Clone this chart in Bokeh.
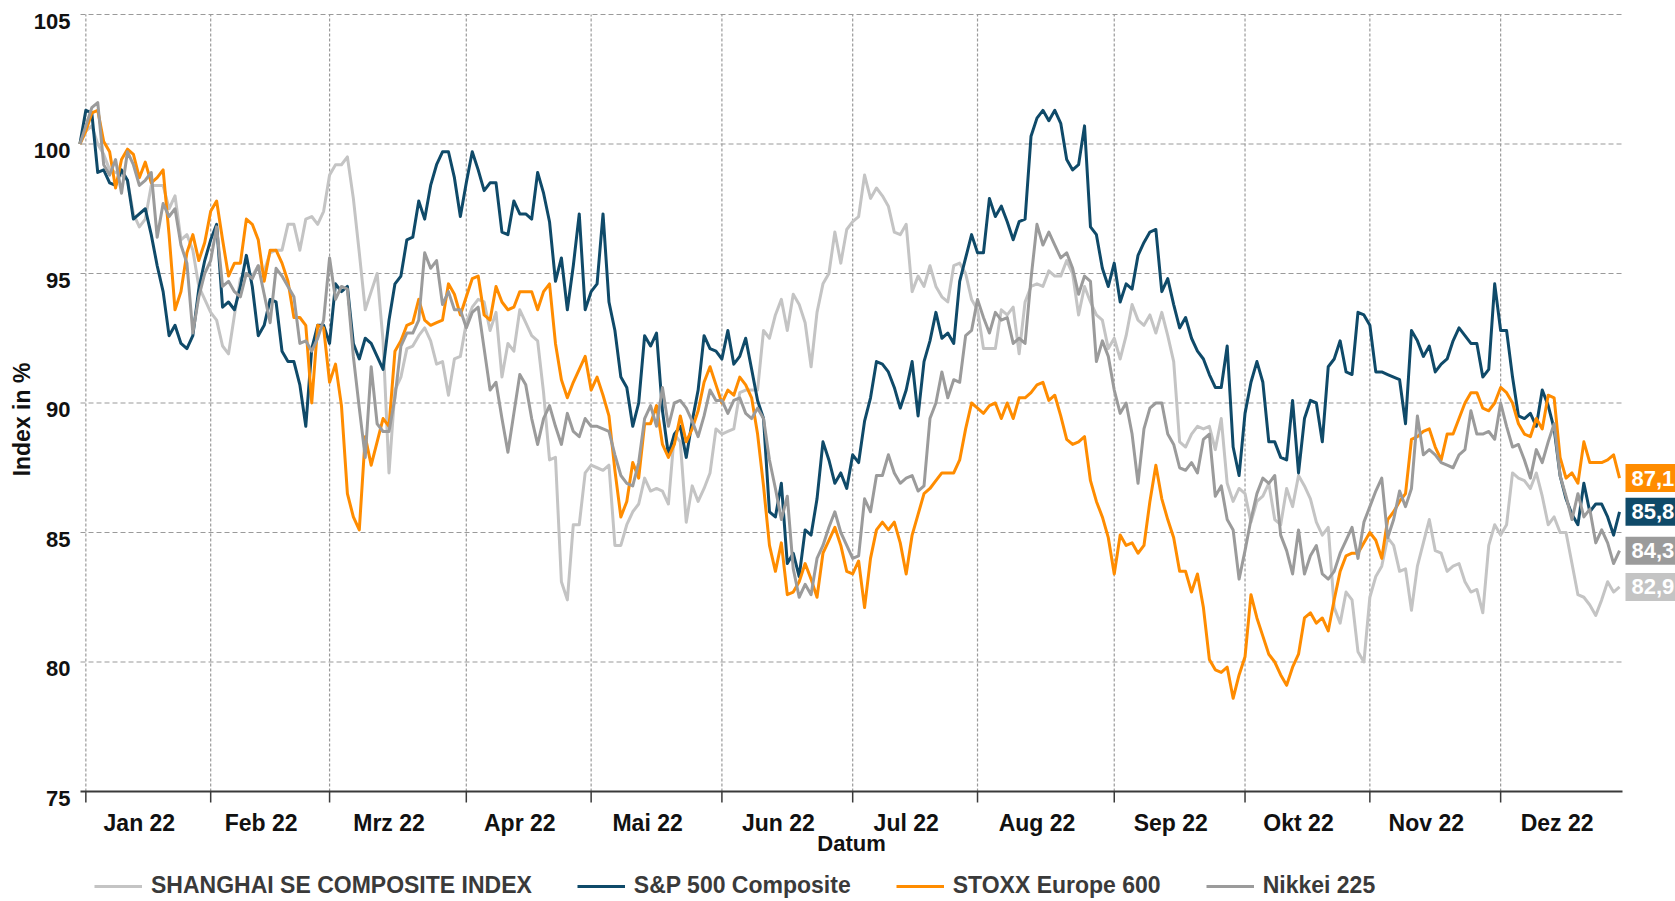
import numpy as np
from bokeh.plotting import figure
from bokeh.models import ColumnDataSource, Range1d, Legend, LegendItem
from bokeh.embed import file_html
from bokeh.resources import INLINE
from bokeh.core.properties import value

# ---------------- data ----------------
MONTH_LABELS = ["Jan 22", "Feb 22", "Mrz 22", "Apr 22", "Mai 22", "Jun 22",
                "Jul 22", "Aug 22", "Sep 22", "Okt 22", "Nov 22", "Dez 22"]
# trading-day index at which each month starts (2022), last = end of year
MONTH_START = [0, 21, 41, 64, 85, 107, 129, 150, 173, 195, 216, 238, 260]
FIRST_DAY = -1          # index of the base day (31.12.2021 = 100 %)
Y_TICKS = [75, 80, 85, 90, 95, 100, 105]
X_TITLE = "Datum"
Y_TITLE = "Index in %"

SHANGHAI = [
    100.0, 100.5, 100.7, 100.0, 99.6, 99.0, 98.9, 98.8, 98.6, 97.3,
    96.8, 97.1, 98.4, 98.4, 98.4, 97.5, 98.0, 96.3, 96.5, 95.9,
    94.5, 94.0, 93.5, 93.2, 92.2, 91.9, 93.4, 94.8, 95.0, 94.9,
    95.3, 95.1, 95.8, 95.9, 95.9, 96.9, 96.9, 95.9, 97.1, 97.2,
    96.9, 97.4, 98.8, 99.2, 99.2, 99.5, 97.9, 95.8, 93.6, 94.3,
    95.0, 92.4, 87.3, 90.5, 91.0, 92.1, 92.2, 92.6, 92.9, 92.4,
    91.5, 91.6, 90.3, 91.7, 91.8, 93.1, 93.7, 94.0, 93.9, 92.8,
    93.5, 91.0, 92.3, 92.0, 93.6, 93.1, 92.6, 92.4, 90.4, 87.8,
    87.9, 83.1, 82.4, 85.3, 85.3, 87.3, 87.6, 87.5, 87.4, 87.6,
    84.5, 84.5, 85.3, 85.8, 86.1, 87.1, 86.6, 86.7, 86.6, 86.1,
    88.8, 88.5, 85.4, 86.8, 86.2, 86.7, 87.3, 89.0, 88.8, 88.9,
    89.0, 90.4, 90.5, 90.5, 90.5, 92.8, 92.5, 93.4, 94.0, 92.8,
    94.2, 93.8, 93.1, 91.4, 93.5, 94.6, 95.0, 96.6, 95.4, 96.7,
    97.0, 97.2, 98.8, 97.9, 98.3, 98.0, 97.6, 96.6, 96.5, 96.9,
    94.3, 94.9, 94.5, 95.3, 94.5, 94.1, 93.9, 95.3, 95.4, 95.0,
    94.0, 93.6, 92.1, 92.1, 92.1, 93.6, 93.4, 93.7, 91.9, 93.9,
    94.5, 94.6, 94.5, 95.1, 94.9, 94.9, 95.5, 95.0, 93.4, 94.5,
    93.9, 93.4, 93.2, 92.1, 92.5, 91.7, 92.6, 93.8, 93.2, 93.0,
    93.4, 92.7, 93.5, 92.6, 91.6, 88.5, 88.3, 88.8, 89.1, 89.0,
    89.1, 88.2, 89.4, 86.9, 86.2, 86.7, 86.5, 85.4, 86.2, 86.4,
    86.9, 85.5, 85.3, 86.7, 86.0, 87.2, 86.8, 86.3, 85.4, 84.9,
    85.2, 82.1, 81.5, 82.7, 82.4, 80.4, 80.0, 82.5, 83.3, 83.7,
    84.8, 84.5, 83.5, 83.6, 82.0, 83.7, 84.6, 85.5, 84.3, 84.2,
    83.5, 83.7, 83.8, 83.1, 82.7, 82.8, 81.9, 84.5, 85.3, 84.9,
    85.3, 87.3, 87.1, 87.0, 86.7, 87.3, 86.4, 85.3, 85.6, 85.0,
    85.0, 83.8, 82.6, 82.5, 82.2, 81.8, 82.4, 83.1, 82.7, 82.9,
]

SP500 = [
    100.0, 101.3, 101.2, 98.9, 99.0, 98.5, 98.4, 99.0, 98.6, 97.1,
    97.3, 97.5, 96.5, 95.3, 94.3, 92.6, 93.0, 92.3, 92.1, 92.6,
    94.4, 95.5, 96.3, 96.9, 93.7, 93.9, 93.6, 94.5, 95.7, 94.5,
    92.6, 93.0, 94.0, 93.9, 92.0, 91.6, 91.6, 90.7, 89.1, 92.1,
    93.0, 93.0, 92.3, 94.6, 94.3, 94.5, 92.3, 91.7, 92.5, 92.3,
    91.8, 91.3, 93.2, 94.6, 94.9, 96.3, 96.4, 97.8, 97.1, 98.4,
    99.2, 99.7, 99.7, 98.7, 97.2, 98.5, 99.7, 99.0, 98.2, 98.5,
    98.5, 96.6, 96.5, 97.8, 97.3, 97.3, 97.1, 98.9, 98.1, 97.0,
    94.7, 95.6, 93.6, 95.3, 97.3, 93.6, 94.3, 94.6, 97.3, 93.9,
    92.8, 91.0, 90.6, 89.1, 90.0, 92.6, 92.2, 92.7, 89.7, 88.0,
    88.8, 89.1, 87.9, 89.3, 90.5, 92.6, 92.1, 92.0, 91.7, 92.8,
    91.5, 91.8, 92.5, 91.3, 90.1, 89.4, 85.8, 85.6, 86.9, 83.8,
    84.2, 83.3, 85.1, 84.9, 86.3, 88.5, 87.8, 86.9, 87.3, 86.7,
    88.0, 87.7, 89.3, 90.2, 91.6, 91.5, 91.2, 90.6, 89.8, 90.5,
    91.6, 89.5, 91.6, 92.4, 93.5, 92.5, 92.7, 92.3, 94.7, 95.6,
    96.5, 95.8, 95.8, 97.9, 97.2, 97.6, 97.0, 96.3, 97.0, 97.1,
    100.3, 101.0, 101.3, 100.9, 101.3, 100.8, 99.4, 99.0, 99.2, 100.7,
    96.8, 96.5, 95.2, 94.5, 95.4, 93.9, 94.6, 94.4, 95.7, 96.2,
    96.6, 96.7, 94.3, 94.8, 93.8, 92.9, 93.3, 92.5, 92.0, 91.7,
    91.1, 90.6, 90.6, 92.2, 88.3, 87.2, 89.6, 90.8, 91.6, 90.8,
    88.5, 88.5, 87.9, 87.8, 90.1, 87.3, 89.4, 90.1, 90.0, 88.5,
    91.4, 91.7, 92.4, 91.2, 91.1, 93.5, 93.4, 93.0, 91.2, 91.2,
    91.1, 91.0, 90.9, 89.2, 92.8, 92.4, 91.8, 92.2, 91.2, 91.5,
    91.7, 92.4, 92.9, 92.6, 92.3, 92.3, 91.0, 91.3, 94.6, 92.8,
    92.8, 91.0, 89.5, 89.4, 89.6, 89.1, 90.5, 89.9, 89.0, 87.2,
    86.3, 85.7, 85.3, 86.9, 85.8, 86.1, 86.1, 85.6, 84.9, 85.8,
]

STOXX600 = [
    100.0, 100.5, 101.2, 101.3, 100.1, 99.7, 98.3, 99.4, 99.8, 99.6,
    98.7, 99.3, 98.5, 98.7, 99.0, 96.5, 93.6, 94.3, 95.8, 96.5,
    95.5, 96.2, 97.4, 97.8, 96.3, 94.9, 95.4, 95.4, 97.1, 96.9,
    96.3, 94.7, 95.9, 95.9, 95.4, 94.7, 93.3, 93.3, 93.0, 90.0,
    93.0, 92.9, 90.8, 91.5, 89.9, 86.5, 85.6, 85.1, 88.7, 87.6,
    88.5, 89.4, 89.1, 92.0, 92.4, 93.0, 93.1, 94.0, 93.2, 93.0,
    93.1, 93.2, 94.6, 94.2, 93.4, 94.1, 94.8, 94.9, 93.4, 93.2,
    94.5, 93.9, 93.6, 93.7, 94.3, 94.3, 94.3, 93.6, 94.3, 94.6,
    92.3, 90.9, 90.2, 90.8, 91.3, 91.8, 90.5, 91.0, 90.3, 89.5,
    87.4, 85.6, 86.2, 87.7, 87.1, 89.2, 89.2, 89.9, 88.4, 87.9,
    88.4, 89.5, 88.5, 89.0, 89.7, 90.8, 91.4, 90.7, 90.0, 90.5,
    90.3, 91.0, 90.7, 90.2, 88.8, 86.8, 84.5, 83.5, 84.6, 82.6,
    82.7, 83.1, 83.8, 83.2, 82.5, 84.2, 84.7, 85.2, 84.5, 83.5,
    83.4, 83.9, 82.1, 84.0, 85.1, 85.4, 85.1, 85.4, 84.6, 83.4,
    84.9, 85.7, 86.5, 86.7, 87.0, 87.3, 87.3, 87.3, 87.8, 89.0,
    90.0, 89.8, 89.6, 89.9, 90.0, 89.4, 90.0, 89.4, 90.2, 90.2,
    90.4, 90.7, 90.8, 90.1, 90.3, 89.5, 88.6, 88.4, 88.5, 88.7,
    87.0, 86.2, 85.6, 84.8, 83.4, 84.9, 84.5, 84.6, 84.2, 84.5,
    86.2, 87.6, 86.3, 85.5, 84.8, 83.5, 83.5, 82.7, 83.4, 82.1,
    80.1, 79.7, 79.6, 79.8, 78.6, 79.5, 80.2, 82.6, 81.7, 81.0,
    80.3, 80.0, 79.5, 79.1, 79.8, 80.3, 81.7, 81.9, 81.5, 81.7,
    81.2, 82.4, 83.5, 84.1, 84.2, 84.2, 84.6, 85.0, 84.7, 84.0,
    85.5, 85.8, 86.2, 86.5, 88.6, 88.7, 88.9, 89.0, 88.3, 87.8,
    88.8, 88.8, 89.4, 90.0, 90.4, 90.4, 89.8, 89.7, 90.0, 90.6,
    90.4, 90.0, 89.2, 88.8, 88.7, 89.4, 89.0, 90.3, 90.2, 87.9,
    87.1, 87.3, 86.9, 88.5, 87.7, 87.7, 87.7, 87.8, 88.0, 87.1,
]

NIKKEI = [
    100.0, 100.7, 101.4, 101.6, 99.2, 98.8, 99.4, 98.1, 99.7, 99.2,
    98.4, 98.6, 98.9, 96.4, 97.7, 97.2, 97.5, 96.1, 95.4, 92.7,
    94.1, 95.0, 95.5, 96.8, 94.5, 94.7, 94.3, 94.1, 95.0, 94.8,
    95.3, 94.2, 93.1, 95.2, 94.9, 94.5, 94.1, 92.3, 92.4, 92.0,
    92.5, 93.2, 95.6, 94.0, 94.5, 94.4, 91.8, 89.8, 87.9, 91.4,
    89.2, 88.9, 88.9, 90.2, 92.2, 92.7, 92.7, 93.2, 95.8, 95.2,
    95.5, 93.8, 94.3, 93.6, 93.6, 92.9, 93.5, 93.7, 92.1, 90.5,
    90.8, 89.4, 88.1, 89.6, 91.1, 90.7, 89.4, 88.4, 89.4, 89.9,
    89.1, 88.4, 89.6, 88.9, 88.7, 89.4, 89.1, 89.1, 89.0, 88.9,
    88.0, 87.2, 86.9, 86.8, 87.7, 89.4, 89.9, 89.1, 90.6, 89.1,
    90.0, 90.1, 89.8, 89.3, 88.7, 89.5, 90.5, 90.1, 90.1, 89.6,
    90.1, 90.2, 89.6, 89.4, 89.8, 89.4, 87.8, 86.7, 85.5, 86.4,
    83.6, 82.5, 83.0, 82.6, 84.0, 84.5, 85.2, 85.8, 85.0, 84.5,
    84.0, 84.1, 86.3, 85.8, 87.2, 87.2, 88.0, 87.3, 86.9, 87.1,
    87.2, 86.6, 86.8, 89.4, 90.0, 91.2, 90.2, 90.9, 90.8, 92.6,
    92.8, 94.0, 93.3, 92.7, 93.5, 93.2, 93.3, 92.3, 92.5, 92.3,
    94.8, 96.9, 96.1, 96.6, 96.1, 95.6, 95.8, 95.2, 94.2, 94.9,
    94.7, 91.6, 92.4, 91.8, 90.5, 89.6, 90.0, 88.8, 86.9, 89.0,
    89.8, 90.0, 90.0, 88.8, 88.4, 87.5, 87.4, 87.7, 87.3, 88.6,
    88.8, 86.4, 86.8, 85.5, 85.1, 83.2, 84.3, 85.5, 86.5, 87.1,
    86.9, 87.2, 84.9, 84.3, 83.4, 85.1, 83.4, 84.1, 84.5, 83.4,
    83.2, 83.5, 84.2, 84.7, 85.2, 84.0, 85.4, 86.0, 86.6, 87.1,
    84.8, 85.5, 86.6, 86.0, 86.7, 89.5, 88.0, 88.2, 88.0, 87.7,
    87.6, 87.5, 88.0, 88.2, 89.7, 88.8, 88.8, 88.9, 88.6, 90.0,
    89.1, 88.3, 88.4, 87.8, 87.1, 88.2, 87.7, 88.5, 89.2, 87.2,
    86.4, 85.5, 86.5, 85.6, 85.9, 84.6, 85.1, 84.6, 83.8, 84.3,
]

SERIES_NAMES = ["SHANGHAI SE COMPOSITE INDEX", "S&P 500 Composite", "STOXX Europe 600", "Nikkei 225"]
SERIES_VALUES = [SHANGHAI, SP500, STOXX600, NIKKEI]
SERIES_COLORS = ["#c4c4c4", "#0f4a69", "#ff8c00", "#9b9b9b"]

for s in SERIES_VALUES:
    assert len(s) == 260, len(s)

FONT = value("Liberation Sans")
TEXT_COLOR = "#111111"
GRID_COLOR = "#9a9a9a"
AXIS_COLOR = "#3a3a3a"
days = np.arange(len(SP500)) + FIRST_DAY

# ---------------- layout (canvas pixels) ----------------
# The frame covers the whole canvas; axes, ticks and labels are drawn as glyphs
W, H = 1675, 899
DATA_LEFT, DATA_RIGHT = 80, 1622          # x pixels of the data window
DATA_TOP, DATA_BOTTOM = 14, 791           # y pixels of Y_MAX / Y_MIN
PLOT_START, PLOT_END = -0.9, 258.5        # trading-day window shown
Y_MIN, Y_MAX = Y_TICKS[0], Y_TICKS[-1]

ppd = (DATA_RIGHT - DATA_LEFT) / (PLOT_END - PLOT_START)
ppu = (DATA_BOTTOM - DATA_TOP) / (Y_MAX - Y_MIN)
x_range = Range1d(PLOT_START - DATA_LEFT / ppd, PLOT_END + (W - DATA_RIGHT) / ppd)
y_range = Range1d(Y_MIN - (H - DATA_BOTTOM) / ppu, Y_MAX + DATA_TOP / ppu)

p = figure(width=W, height=H, output_backend="svg", toolbar_location=None,
           x_range=x_range, y_range=y_range,
           x_axis_location=None, y_axis_location=None, min_border=0,
           min_border_left=0, min_border_right=0, min_border_top=0, min_border_bottom=0)
p.outline_line_color = None
p.xgrid.visible = False
p.ygrid.visible = False
p.background_fill_color = "white"
p.border_fill_color = "white"

# grid lines
month_bounds = MONTH_START[:-1]
n_b = len(month_bounds)
p.segment(x0=month_bounds, x1=month_bounds, y0=[Y_MIN] * n_b, y1=[Y_MAX] * n_b,
          line_color=GRID_COLOR, line_width=1.2, line_dash="3 2")
n_y = len(Y_TICKS) - 1
p.segment(x0=[PLOT_START] * n_y, x1=[PLOT_END] * n_y, y0=Y_TICKS[1:], y1=Y_TICKS[1:],
          line_color=GRID_COLOR, line_width=1.2, line_dash="5 3")

# x axis: line, tick marks at month boundaries, month labels in between
p.segment(x0=[PLOT_START], x1=[PLOT_END], y0=[Y_MIN], y1=[Y_MIN],
          line_color=AXIS_COLOR, line_width=2)
tick_len = 11 / ppu
p.segment(x0=month_bounds, x1=month_bounds, y0=[Y_MIN] * n_b, y1=[Y_MIN - tick_len] * n_b,
          line_color=AXIS_COLOR, line_width=1.5)
mids = [(MONTH_START[i] + MONTH_START[i + 1]) / 2 - 1.5 for i in range(12)]
p.text(x=mids, y=[Y_MIN] * 12, text=MONTH_LABELS, y_offset=31,
       text_align="center", text_baseline="middle", text_font=FONT,
       text_font_style="bold", text_font_size="23px", text_color=TEXT_COLOR)
p.text(x=[(PLOT_START + PLOT_END) / 2], y=[Y_MIN], text=[X_TITLE], y_offset=52,
       text_align="center", text_baseline="middle", text_font=FONT,
       text_font_style="bold", text_font_size="22px", text_color=TEXT_COLOR)

# y axis: tick labels slightly below their grid lines, rotated title
p.text(x=[PLOT_START] * len(Y_TICKS), y=Y_TICKS, text=[str(v) for v in Y_TICKS],
       x_offset=-10, y_offset=6.5, text_align="right", text_baseline="middle",
       text_font=FONT, text_font_style="bold", text_font_size="22px",
       text_color=TEXT_COLOR)
p.text(x=[PLOT_START], y=[(Y_MIN + Y_MAX) / 2], text=[Y_TITLE], x_offset=-59, y_offset=16.5,
       angle=np.pi / 2, text_align="center", text_baseline="middle", text_font=FONT,
       text_font_style="bold", text_font_size="23px", text_color=TEXT_COLOR)

# lines
items = []
for name, vals, col in zip(SERIES_NAMES, SERIES_VALUES, SERIES_COLORS):
    src = ColumnDataSource(dict(x=days, y=vals))
    r = p.line("x", "y", source=src, line_color=col, line_width=3, line_join="round")
    items.append(LegendItem(label=name, renderers=[r]))

# end-of-series value boxes
last_vals = [vals[-1] for vals in SERIES_VALUES]
box_w = 60
p.rect(x=[PLOT_END + (3 + box_w / 2) / ppd] * 4, y=last_vals, width=box_w, height=28,
       width_units="screen", height_units="screen", fill_color=SERIES_COLORS,
       line_color=None)
p.text(x=[PLOT_END] * 4, y=last_vals, text=[f"{v:.1f}".replace(".", ",") for v in last_vals],
       x_offset=9, text_align="left", text_baseline="middle", text_font=FONT,
       text_font_style="bold", text_font_size="22px", text_color="white")

legend = Legend(items=items, orientation="horizontal", location=(94, 0),
                glyph_width=48, glyph_height=20, label_standoff=9, spacing=45,
                padding=0, margin=0, background_fill_alpha=0, border_line_alpha=0,
                label_text_font="Liberation Sans", label_text_font_style="bold",
                label_text_font_size="23px", label_text_color="#3a3a3a")
p.add_layout(legend)

open("out.html", "w").write(file_html(p, INLINE))
